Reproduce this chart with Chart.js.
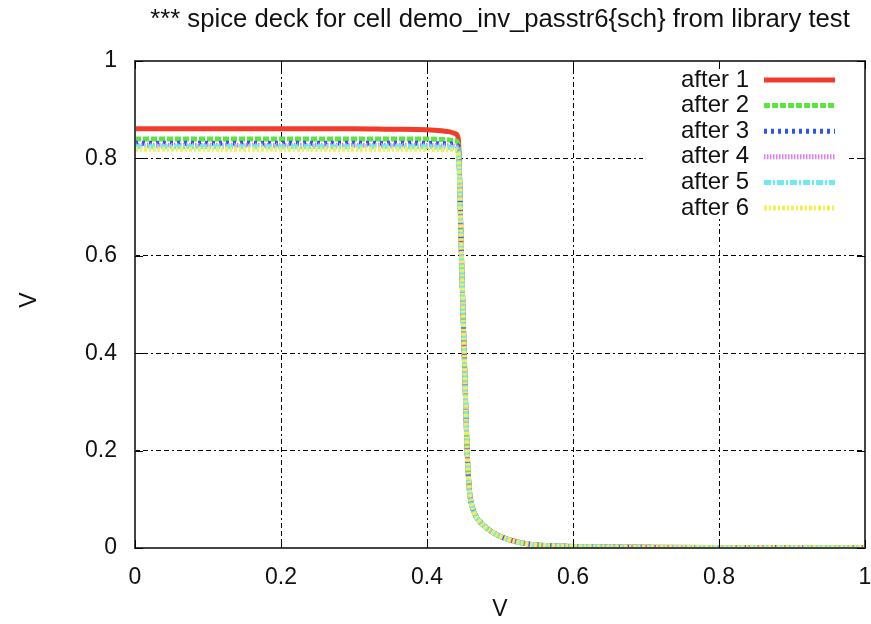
<!DOCTYPE html>
<html>
<head>
<meta charset="utf-8">
<script src="https://cdn.jsdelivr.net/npm/chart.js@4/dist/chart.umd.min.js"></script>
<style>
  html, body { margin: 0; padding: 0; background: #fff; }
  #wrap { width: 871px; height: 624px; }
</style>
</head>
<body>
<div id="wrap"><canvas id="c" width="871" height="624"></canvas></div>
<script>
const TITLE = '*** spice deck for cell demo_inv_passtr6{sch} from library test';

const xs = [0, 0.1, 0.2, 0.3, 0.35, 0.4, 0.42, 0.43, 0.44, 0.443, 0.447, 0.451,
  0.455, 0.458, 0.462, 0.467, 0.475, 0.49, 0.51, 0.54, 0.58, 0.65, 0.8, 1];

const after1 = [0.861, 0.861, 0.861, 0.861, 0.860, 0.859, 0.857, 0.855, 0.850, 0.838, 0.61, 0.40,
  0.20, 0.12, 0.085, 0.065, 0.05, 0.032, 0.018, 0.008, 0.004, 0.002, 0.001, 0.001];
const after2 = [0.840, 0.840, 0.840, 0.840, 0.840, 0.840, 0.839, 0.838, 0.836, 0.826, 0.61, 0.40,
  0.20, 0.12, 0.085, 0.065, 0.05, 0.032, 0.018, 0.008, 0.004, 0.002, 0.001, 0.001];
const after3 = [0.831, 0.831, 0.831, 0.831, 0.831, 0.831, 0.830, 0.830, 0.828, 0.818, 0.61, 0.40,
  0.20, 0.12, 0.085, 0.065, 0.05, 0.032, 0.018, 0.008, 0.004, 0.002, 0.001, 0.001];
const after4 = [0.827, 0.827, 0.827, 0.827, 0.827, 0.827, 0.826, 0.826, 0.824, 0.814, 0.61, 0.40,
  0.20, 0.12, 0.085, 0.065, 0.05, 0.032, 0.018, 0.008, 0.004, 0.002, 0.001, 0.001];
const after5 = [0.824, 0.824, 0.824, 0.824, 0.824, 0.824, 0.823, 0.823, 0.821, 0.811, 0.61, 0.40,
  0.20, 0.12, 0.085, 0.065, 0.05, 0.032, 0.018, 0.008, 0.004, 0.002, 0.001, 0.001];
const after6 = [0.819, 0.819, 0.819, 0.819, 0.819, 0.819, 0.818, 0.818, 0.816, 0.806, 0.61, 0.40,
  0.20, 0.12, 0.085, 0.065, 0.05, 0.032, 0.018, 0.008, 0.004, 0.002, 0.001, 0.001];

const names = ['after 1', 'after 2', 'after 3', 'after 4', 'after 5', 'after 6'];
const series = [after1, after2, after3, after4, after5, after6];
const colors = ['#f03c28', '#5ae63c', '#2c55f0', '#e07cf0', '#6eeaf5', '#f5f050'];
const dashes = [[], [6, 2], [3, 4], [1.5, 1.5], [7, 2, 2, 2], [3, 2, 2, 2]];

const xTicks = [0, 0.2, 0.4, 0.6, 0.8, 1];
const yTicks = [0, 0.2, 0.4, 0.6, 0.8, 1];

const FONT = '"Liberation Sans", Arial, sans-serif';
const GRID_DASH = [5, 3, 5, 3, 2, 3];

const datasets = series.map((vals, i) => ({
  label: names[i],
  data: xs.map((x, j) => ({ x: x, y: vals[j] })),
  borderColor: colors[i],
  borderWidth: 5,
  borderDash: dashes[i],
  pointRadius: 0,
  fill: false,
  cubicInterpolationMode: 'monotone',
  order: 6 - i
}));

// frame, title, axis titles and the gnuplot-style key
const decor = {
  id: 'decor',
  beforeDatasetsDraw(chart) {
    const ctx = chart.ctx;
    ctx.save();
    ctx.fillStyle = '#fff';
    ctx.fillRect(643, 63, 206, 156);
    ctx.restore();
  },
  afterDraw(chart) {
    const { ctx, chartArea: a } = chart;
    ctx.save();
    ctx.strokeStyle = '#444';
    ctx.lineWidth = 2;
    ctx.setLineDash([]);
    ctx.strokeRect(a.left, a.top, a.right - a.left, a.bottom - a.top);

    // inward tick marks
    ctx.lineWidth = 1;
    ctx.strokeStyle = '#000';
    const sx = chart.scales.x, sy = chart.scales.y;
    xTicks.forEach(v => {
      const px = Math.round(sx.getPixelForValue(v)) + 0.5;
      ctx.beginPath();
      ctx.moveTo(px, a.bottom); ctx.lineTo(px, a.bottom - 8);
      ctx.moveTo(px, a.top); ctx.lineTo(px, a.top + 8);
      ctx.stroke();
    });
    yTicks.forEach(v => {
      const py = Math.round(sy.getPixelForValue(v)) + 0.5;
      ctx.beginPath();
      ctx.moveTo(a.left, py); ctx.lineTo(a.left + 8, py);
      ctx.moveTo(a.right, py); ctx.lineTo(a.right - 8, py);
      ctx.stroke();
    });

    ctx.fillStyle = '#111';
    ctx.font = '25.7px ' + FONT;
    ctx.textAlign = 'center';
    ctx.textBaseline = 'middle';
    ctx.fillText(TITLE, (a.left + a.right) / 2, 20);

    ctx.font = '23px ' + FONT;
    ctx.fillText('V', (a.left + a.right) / 2, 610);
    ctx.save();
    ctx.translate(30, 300);
    ctx.rotate(-Math.PI / 2);
    ctx.fillText('V', 0, 0);
    ctx.restore();

    // key
    ctx.font = '24px ' + FONT;
    ctx.textAlign = 'right';
    names.forEach((n, i) => {
      const y = 80 + i * 25.6;
      ctx.fillStyle = '#111';
      ctx.fillText(n, 749, y);
      ctx.strokeStyle = colors[i];
      ctx.lineWidth = 5;
      ctx.setLineDash(dashes[i]);
      ctx.beginPath();
      ctx.moveTo(764, y);
      ctx.lineTo(835, y);
      ctx.stroke();
    });
    ctx.restore();
  }
};

new Chart(document.getElementById('c'), {
  type: 'line',
  data: { datasets: datasets },
  options: {
    responsive: false,
    animation: false,
    layout: { padding: { top: 61, right: 6, left: 0, bottom: 0 } },
    plugins: { legend: { display: false }, tooltip: { enabled: false }, title: { display: false } },
    scales: {
      x: {
        type: 'linear',
        min: 0, max: 1,
        afterFit(s) { s.height = 76; s.paddingLeft = 0; s.paddingRight = 0; },
        afterBuildTicks(s) { s.ticks = xTicks.map(v => ({ value: v })); },
        ticks: {
          color: '#111', font: { family: FONT, size: 23 }, padding: 16,
          maxRotation: 0,
          callback: v => String(v)
        },
        grid: { color: '#000', lineWidth: 1, drawTicks: false },
        border: { display: false, dash: GRID_DASH }
      },
      y: {
        type: 'linear',
        min: 0, max: 1,
        afterFit(s) { s.width = 135; },
        afterBuildTicks(s) { s.ticks = yTicks.map(v => ({ value: v })); },
        ticks: {
          color: '#111', font: { family: FONT, size: 23 }, padding: 18,
          callback: v => String(v)
        },
        grid: { color: '#000', lineWidth: 1, drawTicks: false },
        border: { display: false, dash: GRID_DASH }
      }
    }
  },
  plugins: [decor]
});
</script>
</body>
</html>
